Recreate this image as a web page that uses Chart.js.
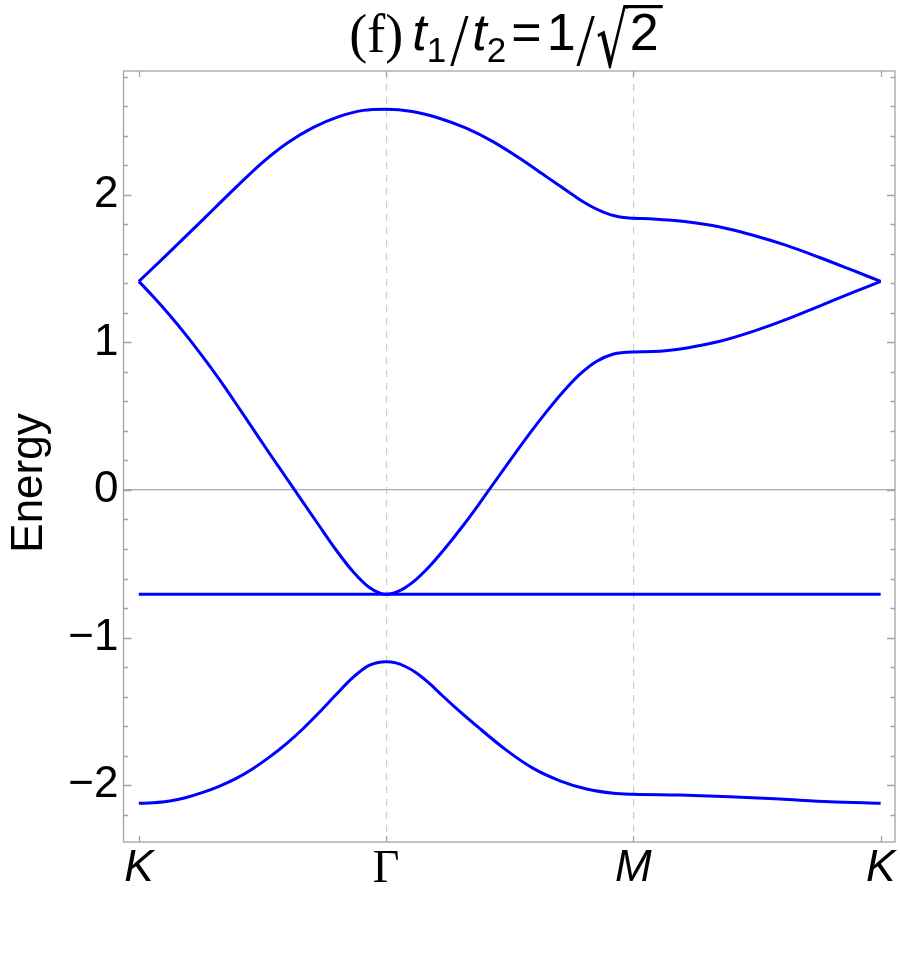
<!DOCTYPE html>
<html>
<head>
<meta charset="utf-8">
<script src="https://cdn.jsdelivr.net/npm/chart.js@4.4.0/dist/chart.umd.min.js"></script>
<style>
html, body { margin: 0; padding: 0; background: #fff; }
</style>
</head>
<body>
<canvas id="chart" width="900" height="959"></canvas>
<script>
// k-path: K = 0, Γ = 1, M = 2, K = 3
const pathTicks = [0, 1, 2, 3];
const pathLabels = ['K', 'Γ', 'M', 'K'];
const energyTicks = [-2, -1, 0, 1, 2];

// top band
const band1K = [0, 0.101, 0.202, 0.302, 0.403, 0.504, 0.605, 0.706, 0.806, 0.907, 1,
    1.106, 1.215, 1.324, 1.432, 1.540, 1.648, 1.756, 1.784, 1.811, 1.838, 1.865, 1.892, 1.919, 1.960, 2,
    2.081, 2.216, 2.350, 2.484, 2.619, 2.753, 2.888, 3];
const band1E = [1.414, 1.575, 1.739, 1.903, 2.068, 2.226, 2.357, 2.458, 2.529, 2.573, 2.581,
    2.565, 2.520, 2.452, 2.361, 2.248, 2.124, 2.0, 1.968, 1.940, 1.915, 1.893, 1.875, 1.861, 1.847, 1.842,
    1.837, 1.818, 1.783, 1.727, 1.658, 1.576, 1.488, 1.414];

// second band
const band2K = [0, 0.058, 0.125, 0.192, 0.259, 0.327, 0.394, 0.461, 0.528, 0.596, 0.636, 0.730, 0.797, 0.865, 0.931, 1,
    1.053, 1.107, 1.175, 1.242, 1.310, 1.378, 1.418, 1.513, 1.581, 1.649, 1.716, 1.784, 1.852, 1.920, 2,
    2.081, 2.216, 2.350, 2.484, 2.619, 2.753, 2.888, 3];
const band2E = [1.414, 1.311, 1.184, 1.048, 0.902, 0.746, 0.583, 0.416, 0.249, 0.083, -0.015, -0.244, -0.405, -0.551, -0.659, -0.707,
    -0.684, -0.626, -0.518, -0.388, -0.244, -0.090, 0.005, 0.228, 0.384, 0.531, 0.666, 0.785, 0.873, 0.922, 0.936,
    0.938, 0.963, 1.008, 1.075, 1.156, 1.247, 1.339, 1.414];

// flat band
const band3K = [0, 1, 2, 3];
const band3E = [-0.707, -0.707, -0.707, -0.707];

// bottom band
const band4K = [0, 0.058, 0.125, 0.192, 0.259, 0.327, 0.394, 0.461, 0.528, 0.596, 0.663, 0.730, 0.797, 0.865, 0.931, 1,
    1.040, 1.080, 1.120, 1.175, 1.222, 1.269, 1.378, 1.486, 1.595, 1.703, 1.811, 1.919, 2,
    2.189, 2.390, 2.592, 2.794, 3];
const band4E = [-2.124, -2.120, -2.108, -2.084, -2.050, -2.007, -1.955, -1.889, -1.811, -1.721, -1.620, -1.507, -1.388, -1.272, -1.189, -1.164,
    -1.172, -1.198, -1.237, -1.311, -1.385, -1.458, -1.616, -1.763, -1.887, -1.971, -2.027, -2.056, -2.063,
    -2.068, -2.079, -2.095, -2.113, -2.124];

const SANS = '"Liberation Sans", Arial, sans-serif';
const SERIF = '"Liberation Serif", "Times New Roman", serif';
const FRAME = '#a4a4a4';

function band(k, e) {
    return {
        data: k.map((x, i) => ({ x: x, y: e[i] })),
        borderColor: '#0000ff',
        borderWidth: 3,
        pointRadius: 0,
        fill: false,
        cubicInterpolationMode: 'monotone'
    };
}

// frame, inward ticks, title and axis label
const decor = {
    id: 'decor',
    afterDraw(chart) {
        const c = chart.ctx;
        const a = chart.chartArea;
        const xs = chart.scales.x, ys = chart.scales.y;
        c.save();
        c.strokeStyle = FRAME;
        c.lineWidth = 1.3;
        c.strokeRect(a.left, a.top, a.right - a.left, a.bottom - a.top);
        c.beginPath();
        for (let v = -2.2; v < 2.85; v += 0.2) {
            const py = Math.round(ys.getPixelForValue(v)) + 0.5;
            const major = Math.abs(v - Math.round(v)) < 1e-6;
            const len = major ? 8 : 4.5;
            c.moveTo(a.left, py); c.lineTo(a.left + len, py);
            c.moveTo(a.right, py); c.lineTo(a.right - len, py);
        }
        pathTicks.forEach(v => {
            const px = Math.round(xs.getPixelForValue(v)) + 0.5;
            c.moveTo(px, a.bottom); c.lineTo(px, a.bottom - 6);
            c.moveTo(px, a.top); c.lineTo(px, a.top + 6);
        });
        c.stroke();

        // y axis title
        c.fillStyle = '#000';
        c.save();
        c.translate(42, 483);
        c.rotate(-Math.PI / 2);
        c.font = '44px ' + SANS;
        c.textAlign = 'center';
        c.textBaseline = 'alphabetic';
        c.fillText('Energy', 0, 0);
        c.restore();

        // plot title: (f) t1/t2=1/√2, laid out piece by piece
        c.textBaseline = 'alphabetic';
        c.textAlign = 'left';
        const main = '52px ' + SANS, ital = 'italic 52px ' + SANS, sub = '35px ' + SANS;
        const slash = '200 60px "DejaVu Sans", ' + SANS;
        const parts = [
            { t: '(f)', f: '54px ' + SERIF, dy: 2, gap: 9 },
            { t: 't', f: ital, dy: 0, gap: 0 },
            { t: '1', f: sub, dy: 12, gap: 3 },
            { t: '/', f: slash, dy: 10, gap: 3 },
            { t: 't', f: ital, dy: 0, gap: 0 },
            { t: '2', f: sub, dy: 12, gap: 5 },
            { t: '=', f: main, dy: 0, gap: 5 },
            { t: '1', f: main, dy: 0, gap: 0 },
            { t: '/', f: slash, dy: 10, gap: 1 },
            { rad: true, w: 32, gap: 1 },
            { t: '2', f: main, dy: 0, gap: 0 }
        ];
        let total = 0;
        parts.forEach(p => {
            if (!p.rad) { c.font = p.f; p.w = c.measureText(p.t).width; }
            total += p.w + p.gap;
        });
        const base = 50;
        let x = 504 - total / 2;
        let radEnd = 0;
        parts.forEach(p => {
            if (p.rad) {
                // radical sign, stretched to the reference height
                c.font = '60px "DejaVu Sans"';
                const m = c.measureText('\u221A');
                const gw = m.actualBoundingBoxLeft + m.actualBoundingBoxRight;
                const gh = m.actualBoundingBoxAscent + m.actualBoundingBoxDescent;
                c.save();
                c.translate(x, 5);
                c.scale(p.w / gw, 65 / gh);
                c.fillText('\u221A', m.actualBoundingBoxLeft, m.actualBoundingBoxAscent);
                c.restore();
                radEnd = x + p.w - 3;
            } else {
                c.font = p.f;
                c.fillText(p.t, x, base + p.dy);
            }
            x += p.w + p.gap;
        });
        c.fillRect(radEnd, 5, x + 4 - radEnd, 3.2);
        c.restore();
    }
};

const ctx = document.getElementById('chart').getContext('2d');
const bandChart = new Chart(ctx, {
    type: 'line',
    data: {
        datasets: [band(band1K, band1E), band(band2K, band2E), band(band3K, band3E), band(band4K, band4E)]
    },
    options: {
        responsive: false,
        animation: false,
        devicePixelRatio: 1,
        layout: { padding: { top: 71, right: 5, bottom: 57, left: 0 } },
        plugins: {
            legend: { display: false },
            tooltip: { enabled: false },
            title: { display: false }
        },
        scales: {
            x: {
                type: 'linear',
                min: -0.062,
                max: 3.058,
                afterBuildTicks: s => { s.ticks = pathTicks.map(v => ({ value: v })); },
                afterFit: s => { s.height = 60; },
                ticks: {
                    autoSkip: false,
                    maxRotation: 0,
                    padding: 0,
                    color: '#000',
                    callback: (v, i) => pathLabels[i],
                    font: c => (c.index === 1
                        ? { family: SERIF, size: 46, style: 'normal' }
                        : { family: SANS, size: 44, style: 'italic' })
                },
                grid: {
                    drawTicks: false,
                    lineWidth: 1.2,
                    color: c => (c.tick && (c.tick.value === 1 || c.tick.value === 2)) ? '#cdcdcd' : 'rgba(0,0,0,0)'
                },
                border: { display: false, dash: [7, 6] }
            },
            y: {
                type: 'linear',
                min: -2.386,
                max: 2.84,
                afterBuildTicks: s => { s.ticks = energyTicks.map(v => ({ value: v })); },
                afterFit: s => { s.width = 123.5; },
                ticks: {
                    autoSkip: false,
                    padding: 5,
                    color: '#000',
                    font: { family: SANS, size: 44 },
                    callback: v => (v < 0 ? '\u2212' + Math.abs(v) : String(v))
                },
                grid: {
                    drawTicks: false,
                    lineWidth: 1.2,
                    color: c => (c.tick && c.tick.value === 0) ? '#aaaaaa' : 'rgba(0,0,0,0)'
                },
                border: { display: false }
            }
        }
    },
    plugins: [decor]
});
</script>
</body>
</html>
